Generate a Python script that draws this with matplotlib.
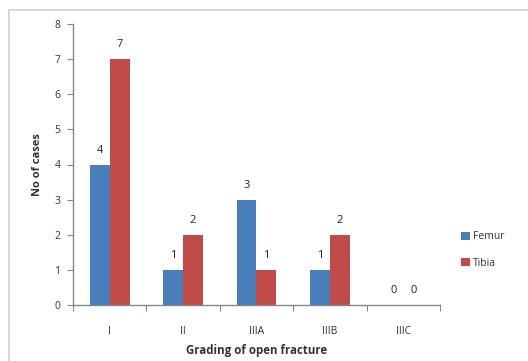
import matplotlib
matplotlib.use("Agg")
import matplotlib.pyplot as plt
import numpy as np
from matplotlib.patches import Rectangle

plt.rcParams['font.family'] = ['Open Sans', 'DejaVu Sans']

categories = ["I", "II", "IIIA", "IIIB", "IIIC"]
femur = [4, 1, 3, 1, 0]
tibia = [7, 2, 1, 2, 0]
series_names = ["Femur", "Tibia"]
colors = ["#4a7ebb", "#be4b48"]

W, H = 528, 361
fig = plt.figure(figsize=(W / 100, H / 100), dpi=100)

# chart frame
fig.patches.append(Rectangle((9 / W, -0.1), 1.2, 1 - 10 / H + 0.1, transform=fig.transFigure,
                             fill=False, edgecolor="#d0d0d0", linewidth=1.2))

ax = fig.add_axes([73 / W, 1 - 305 / H, (440 - 73) / W, (305 - 24) / H])
x = np.arange(len(categories))
bw = 0.27
axis_col = "#868686"
bars_f = ax.bar(x - bw / 2, femur, bw, color=colors[0], label=series_names[0])
bars_t = ax.bar(x + bw / 2, tibia, bw, color=colors[1], label=series_names[1])

for bars, vals in ((bars_f, femur), (bars_t, tibia)):
    for b, v in zip(bars, vals):
        ax.text(b.get_x() + b.get_width() / 2, v + 0.25, str(v), ha="center", va="bottom",
                fontsize=8, color="#222222")

ax.set_xlim(-0.5, len(categories) - 0.5)
ax.set_ylim(0, 8)
ax.set_yticks(range(0, 9))
ax.set_xticks(np.arange(-0.5, len(categories), 1.0), minor=False)
ax.set_xticklabels([])
ax.set_xticks(x, minor=True)
ax.set_xticklabels(categories, minor=True)
ax.tick_params(axis="x", which="minor", length=0, pad=15, labelsize=7.5, colors="#333333")
ax.tick_params(axis="x", which="major", length=4, color=axis_col, direction="out")
ax.tick_params(axis="y", length=4, color=axis_col, labelsize=7.5, colors="#333333", pad=5)
ax.tick_params(axis="y", color=axis_col)
for s in ("top", "right"):
    ax.spines[s].set_visible(False)
for s in ("left", "bottom"):
    ax.spines[s].set_color(axis_col)
    ax.spines[s].set_linewidth(1.0)

ax.set_xlabel("Grading of open fracture", fontsize=8.3, fontweight="bold", color="#333333", labelpad=5)
ax.set_ylabel("No of cases", fontsize=8, fontweight="bold", color="#333333", labelpad=8)

leg = ax.legend(loc="center left", bbox_to_anchor=(452 / W, 1 - 250 / H), bbox_transform=fig.transFigure,
                frameon=False, fontsize=7.5, handlelength=0.8, handleheight=0.8, handletextpad=0.3,
                labelspacing=1.5)
for t in leg.get_texts():
    t.set_color("#333333")

fig.savefig("out.png", dpi=100)
